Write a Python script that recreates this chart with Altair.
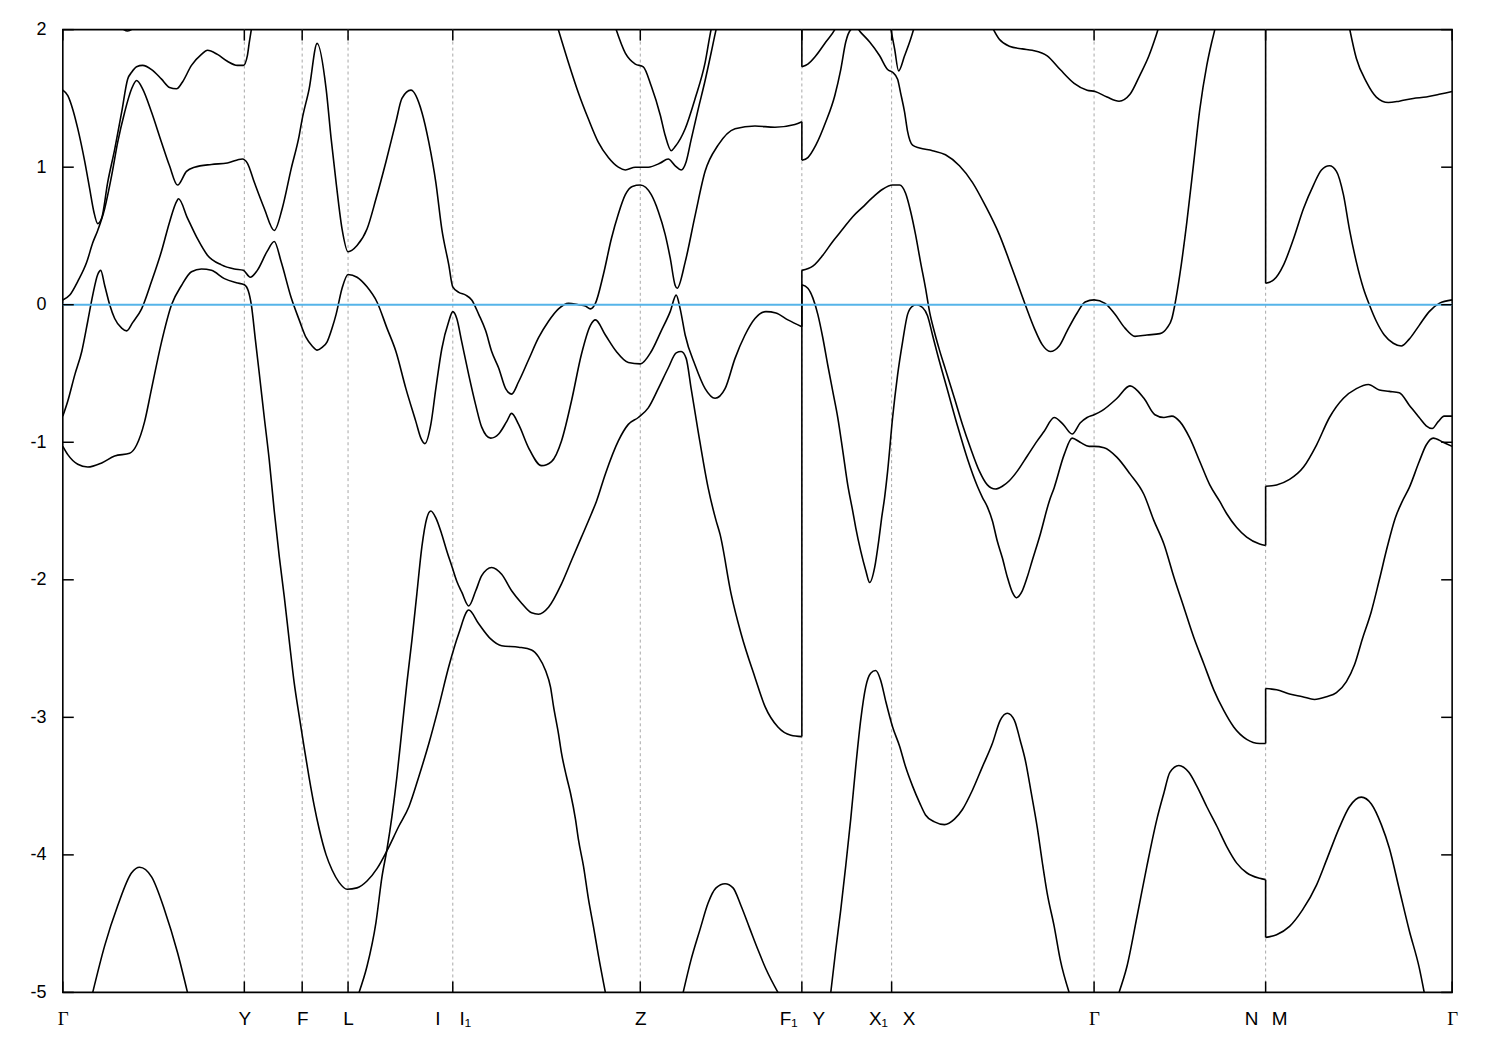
import altair as alt
import pandas as pd

# ---------------- axis data ----------------
K_TICKS = [0.0, 1.82, 2.40, 2.86, 3.91, 5.79, 7.41, 8.31, 10.34, 12.06, 13.93]
K_LABELS = ["Γ", "Y", "F", "L", "I\u2002\u2002I₁", "Z", "F₁\u2002\u00a0Y",
            "X₁\u2002\u00a0X", "Γ", "N\u2002\u2009M", "Γ"]
K_GRID = [1.82, 2.40, 2.86, 3.91, 5.79, 7.41, 8.31, 10.34, 12.06]
E_TICKS = [-5, -4, -3, -2, -1, 0, 1, 2]

# ---------------- band pieces (k, E in eV) ----------------
B1_GY = [(0.30, -5.0), (0.42, -4.66), (0.55, -4.37), (0.69, -4.13), (0.77, -4.09),
         (0.89, -4.16), (1.02, -4.40), (1.15, -4.71), (1.25, -5.0)]

B2_LOW = [(0.00, -1.03), (0.05, -1.09), (0.15, -1.16), (0.25, -1.18), (0.39, -1.15),
          (0.52, -1.10), (0.67, -1.08), (0.74, -1.02), (0.82, -0.85), (0.89, -0.61),
          (0.99, -0.27), (1.09, 0.0), (1.19, 0.14), (1.29, 0.24), (1.39, 0.26),
          (1.49, 0.25), (1.62, 0.19), (1.74, 0.16), (1.82, 0.145), (1.86, 0.10),
          (1.89, 0.0), (1.93, -0.25), (1.97, -0.50), (2.02, -0.82), (2.07, -1.13),
          (2.12, -1.50), (2.17, -1.83), (2.22, -2.12), (2.27, -2.44), (2.32, -2.75),
          (2.37, -2.99), (2.42, -3.22), (2.47, -3.44), (2.52, -3.64), (2.57, -3.81),
          (2.64, -4.0), (2.70, -4.11), (2.77, -4.20), (2.85, -4.25), (2.95, -4.24),
          (3.05, -4.19), (3.15, -4.10), (3.25, -3.97), (3.37, -3.79), (3.47, -3.65),
          (3.57, -3.43), (3.67, -3.19), (3.77, -2.92), (3.87, -2.63), (3.97, -2.39),
          (4.07, -2.22), (4.17, -2.32), (4.29, -2.43), (4.40, -2.48), (4.57, -2.49),
          (4.70, -2.51), (4.77, -2.56), (4.84, -2.66), (4.89, -2.78), (4.92, -2.92),
          (4.97, -3.12), (5.00, -3.26), (5.05, -3.43), (5.09, -3.55), (5.14, -3.74),
          (5.17, -3.89), (5.22, -4.08), (5.27, -4.32), (5.32, -4.52), (5.37, -4.73),
          (5.44, -5.0)]

B2_STEEP = [(2.97, -5.0), (3.05, -4.81), (3.14, -4.49), (3.20, -4.16), (3.25, -3.96),
            (3.30, -3.72), (3.35, -3.43), (3.40, -3.09), (3.45, -2.75), (3.50, -2.44),
            (3.55, -2.10), (3.60, -1.76), (3.65, -1.55), (3.69, -1.50), (3.74, -1.55),
            (3.80, -1.67), (3.85, -1.79), (3.90, -1.90), (3.95, -2.01), (4.00, -2.09),
            (4.07, -2.19), (4.14, -2.08), (4.20, -1.97), (4.30, -1.91), (4.40, -1.96),
            (4.50, -2.08), (4.60, -2.17), (4.70, -2.24), (4.77, -2.25), (4.87, -2.20),
            (5.00, -2.03), (5.10, -1.86), (5.20, -1.69), (5.30, -1.52), (5.35, -1.43),
            (5.44, -1.23), (5.57, -0.99), (5.67, -0.87), (5.77, -0.82), (5.87, -0.75),
            (5.97, -0.61), (6.07, -0.46), (6.15, -0.35), (6.20, -0.34), (6.25, -0.39),
            (6.30, -0.61), (6.37, -0.92), (6.47, -1.33), (6.55, -1.57), (6.59, -1.67),
            (6.70, -2.10), (6.80, -2.39), (6.94, -2.71), (7.04, -2.92), (7.17, -3.07),
            (7.30, -3.13), (7.41, -3.14)]

B2_YN = [(7.41, 0.145), (7.47, 0.12), (7.52, 0.05), (7.57, -0.07), (7.62, -0.24),
         (7.67, -0.44), (7.72, -0.63), (7.77, -0.82), (7.82, -1.06), (7.87, -1.31),
         (7.92, -1.50), (7.95, -1.62), (8.00, -1.79), (8.05, -1.93), (8.09, -2.02),
         (8.14, -1.91), (8.18, -1.72), (8.21, -1.55), (8.24, -1.40), (8.27, -1.21),
         (8.32, -0.82), (8.37, -0.51), (8.42, -0.27), (8.47, -0.07), (8.52, -0.01),
         (8.56, 0.0), (8.62, -0.02), (8.67, -0.08), (8.72, -0.22), (8.77, -0.36),
         (8.87, -0.62), (8.97, -0.88), (9.07, -1.12), (9.17, -1.32), (9.22, -1.40),
         (9.27, -1.47), (9.32, -1.57), (9.37, -1.72), (9.42, -1.84), (9.47, -1.98),
         (9.52, -2.09), (9.56, -2.13), (9.62, -2.08), (9.67, -1.98), (9.72, -1.86),
         (9.80, -1.67), (9.89, -1.43), (9.94, -1.33), (10.04, -1.09), (10.12, -0.97),
         (10.20, -1.00), (10.29, -1.03), (10.34, -1.03), (10.44, -1.04), (10.57, -1.11),
         (10.70, -1.23), (10.84, -1.38), (10.94, -1.57), (11.04, -1.74), (11.14, -1.98),
         (11.24, -2.20), (11.34, -2.42), (11.44, -2.61), (11.54, -2.80), (11.64, -2.95),
         (11.74, -3.07), (11.87, -3.16), (12.00, -3.19), (12.06, -3.19)]

B2_MG = [(12.06, -2.79), (12.17, -2.80), (12.30, -2.83), (12.43, -2.85), (12.55, -2.87),
         (12.67, -2.85), (12.77, -2.82), (12.87, -2.74), (12.95, -2.62), (13.03, -2.43),
         (13.12, -2.23), (13.20, -2.0), (13.28, -1.76), (13.36, -1.55), (13.43, -1.43),
         (13.50, -1.33), (13.60, -1.14), (13.67, -1.02), (13.74, -0.97), (13.84, -1.00),
         (13.93, -1.03)]

B3_GF = [(0.00, -0.81), (0.05, -0.70), (0.12, -0.51), (0.19, -0.34), (0.25, -0.12),
         (0.30, 0.07), (0.35, 0.22), (0.38, 0.25), (0.42, 0.14), (0.47, 0.0),
         (0.52, -0.10), (0.59, -0.17), (0.64, -0.19), (0.70, -0.13), (0.79, -0.03),
         (0.89, 0.17), (0.99, 0.39), (1.07, 0.60), (1.14, 0.75), (1.16, 0.77),
         (1.25, 0.63), (1.35, 0.48), (1.45, 0.36), (1.59, 0.29), (1.72, 0.26),
         (1.81, 0.25), (1.88, 0.20), (1.95, 0.25), (2.05, 0.39), (2.12, 0.46),
         (2.19, 0.31), (2.29, 0.05), (2.37, -0.11), (2.44, -0.24), (2.50, -0.30),
         (2.55, -0.33), (2.60, -0.31), (2.65, -0.27), (2.70, -0.17), (2.74, -0.07),
         (2.80, 0.12), (2.86, 0.22), (2.95, 0.20), (3.05, 0.13), (3.15, 0.02),
         (3.25, -0.17), (3.34, -0.34), (3.44, -0.61), (3.54, -0.85), (3.59, -0.97),
         (3.63, -1.01), (3.69, -0.87), (3.74, -0.61), (3.80, -0.32), (3.87, -0.12),
         (3.91, -0.05), (3.95, -0.10), (4.00, -0.27), (4.07, -0.51), (4.14, -0.73),
         (4.20, -0.89), (4.29, -0.97), (4.37, -0.94), (4.45, -0.85), (4.50, -0.79),
         (4.57, -0.87), (4.67, -1.04), (4.80, -1.17), (4.90, -1.14), (5.00, -0.99),
         (5.10, -0.70), (5.20, -0.36), (5.29, -0.15), (5.34, -0.11), (5.44, -0.22),
         (5.55, -0.34), (5.67, -0.42), (5.79, -0.43), (5.90, -0.34), (6.00, -0.19),
         (6.09, -0.05), (6.15, 0.07), (6.19, -0.03), (6.24, -0.22), (6.34, -0.44),
         (6.44, -0.61), (6.54, -0.68), (6.64, -0.61), (6.74, -0.39), (6.84, -0.22),
         (6.94, -0.10), (7.05, -0.05), (7.15, -0.06), (7.27, -0.11), (7.41, -0.16)]

B3_YN = [(7.41, 0.25), (7.52, 0.28), (7.62, 0.36), (7.72, 0.46), (7.82, 0.55),
         (7.92, 0.64), (8.02, 0.71), (8.12, 0.78), (8.22, 0.84), (8.32, 0.87),
         (8.39, 0.87), (8.45, 0.81), (8.50, 0.68), (8.55, 0.51), (8.60, 0.31),
         (8.65, 0.12), (8.69, -0.05), (8.74, -0.20), (8.79, -0.33), (8.85, -0.47),
         (8.94, -0.68), (9.02, -0.87), (9.10, -1.04), (9.19, -1.21), (9.27, -1.31),
         (9.35, -1.34), (9.42, -1.32), (9.49, -1.28), (9.57, -1.21), (9.67, -1.10),
         (9.77, -0.99), (9.84, -0.92), (9.94, -0.82), (10.03, -0.87), (10.12, -0.94),
         (10.20, -0.86), (10.27, -0.82), (10.34, -0.80), (10.42, -0.77), (10.57, -0.68),
         (10.70, -0.59), (10.84, -0.68), (10.95, -0.80), (11.04, -0.82), (11.12, -0.81),
         (11.20, -0.85), (11.30, -0.97), (11.40, -1.14), (11.50, -1.31), (11.60, -1.43),
         (11.67, -1.52), (11.77, -1.62), (11.87, -1.69), (12.00, -1.74), (12.06, -1.75)]

B3_MG = [(12.06, -1.32), (12.17, -1.31), (12.30, -1.27), (12.44, -1.18), (12.57, -1.02),
         (12.70, -0.82), (12.84, -0.68), (12.97, -0.61), (13.09, -0.58), (13.20, -0.62),
         (13.30, -0.63), (13.40, -0.64), (13.50, -0.73), (13.60, -0.82), (13.67, -0.88),
         (13.73, -0.90), (13.79, -0.85), (13.85, -0.81), (13.93, -0.81)]

B4_GF = [(0.00, 0.035), (0.07, 0.07), (0.15, 0.17), (0.24, 0.31), (0.30, 0.45),
         (0.35, 0.54), (0.42, 0.70), (0.49, 0.94), (0.55, 1.18), (0.62, 1.40),
         (0.69, 1.57), (0.74, 1.63), (0.80, 1.57), (0.89, 1.40), (0.99, 1.18),
         (1.07, 1.01), (1.15, 0.87), (1.24, 0.97), (1.32, 1.00), (1.49, 1.02),
         (1.65, 1.03), (1.80, 1.06), (1.85, 1.03), (1.92, 0.89), (2.02, 0.70),
         (2.12, 0.54), (2.20, 0.70), (2.29, 0.99), (2.37, 1.23), (2.40, 1.35),
         (2.47, 1.57), (2.55, 1.90), (2.64, 1.57), (2.69, 1.21), (2.74, 0.89),
         (2.80, 0.55), (2.86, 0.385), (2.95, 0.43), (3.05, 0.55), (3.14, 0.77),
         (3.24, 1.04), (3.34, 1.33), (3.40, 1.50), (3.49, 1.56), (3.60, 1.40),
         (3.67, 1.18), (3.74, 0.89), (3.80, 0.55), (3.87, 0.29), (3.91, 0.13),
         (3.97, 0.09), (4.04, 0.07), (4.10, 0.035), (4.17, -0.07), (4.24, -0.19),
         (4.30, -0.34), (4.37, -0.46), (4.44, -0.61), (4.50, -0.65), (4.57, -0.56),
         (4.67, -0.40), (4.77, -0.24), (4.87, -0.12), (4.97, -0.03), (5.07, 0.01),
         (5.17, 0.0), (5.24, -0.01), (5.29, -0.03), (5.34, 0.01), (5.42, 0.22),
         (5.50, 0.48), (5.57, 0.66), (5.64, 0.80), (5.71, 0.86), (5.79, 0.87),
         (5.90, 0.80), (5.97, 0.68), (6.04, 0.51), (6.09, 0.34), (6.14, 0.14),
         (6.16, 0.12), (6.24, 0.31), (6.34, 0.65), (6.44, 0.97), (6.57, 1.16),
         (6.74, 1.28), (6.94, 1.30), (7.14, 1.29), (7.34, 1.31), (7.41, 1.33)]

B4_YN = [(7.41, 1.05), (7.47, 1.07), (7.55, 1.16), (7.65, 1.33), (7.74, 1.52),
         (7.80, 1.71), (7.85, 1.91), (7.90, 2.0), (7.95, 2.02), (8.00, 1.98),
         (8.09, 1.91), (8.19, 1.81), (8.27, 1.71), (8.32, 1.69), (8.37, 1.64),
         (8.40, 1.54), (8.44, 1.40), (8.47, 1.26), (8.52, 1.16), (8.59, 1.14),
         (8.72, 1.12), (8.85, 1.09), (8.99, 1.01), (9.12, 0.89), (9.25, 0.72),
         (9.39, 0.51), (9.52, 0.26), (9.65, 0.0), (9.74, -0.17), (9.82, -0.29),
         (9.90, -0.34), (9.99, -0.30), (10.07, -0.19), (10.17, -0.06), (10.25, 0.02),
         (10.34, 0.035), (10.45, 0.01), (10.55, -0.07), (10.65, -0.17), (10.75, -0.23),
         (10.87, -0.22), (11.00, -0.21), (11.07, -0.17), (11.12, -0.10), (11.15, 0.0),
         (11.20, 0.22), (11.27, 0.60), (11.34, 1.04), (11.40, 1.42), (11.47, 1.74),
         (11.52, 1.91), (11.55, 2.0), (11.58, 2.12)]

B4_MG = [(12.06, 0.156), (12.14, 0.18), (12.24, 0.29), (12.34, 0.48), (12.44, 0.70),
         (12.54, 0.87), (12.62, 0.98), (12.70, 1.01), (12.77, 0.97), (12.84, 0.80),
         (12.90, 0.55), (12.97, 0.31), (13.04, 0.12), (13.10, 0.0), (13.17, -0.12),
         (13.25, -0.22), (13.34, -0.28), (13.42, -0.30), (13.50, -0.25), (13.60, -0.15),
         (13.70, -0.05), (13.80, 0.01), (13.93, 0.035)]

B5_GY = [(0.00, 1.56), (0.05, 1.52), (0.10, 1.42), (0.15, 1.28), (0.22, 1.04),
         (0.27, 0.84), (0.31, 0.68), (0.35, 0.59), (0.39, 0.63), (0.45, 0.89),
         (0.52, 1.13), (0.59, 1.40), (0.65, 1.64), (0.69, 1.69), (0.74, 1.73),
         (0.80, 1.74), (0.89, 1.71), (0.99, 1.64), (1.07, 1.58), (1.14, 1.57),
         (1.20, 1.62), (1.29, 1.74), (1.39, 1.82), (1.45, 1.85), (1.55, 1.82),
         (1.65, 1.77), (1.75, 1.74), (1.81, 1.74), (1.85, 1.81), (1.87, 1.91),
         (1.89, 2.0), (1.91, 2.1)]

B5_IZ = [(4.96, 2.02), (5.07, 1.76), (5.17, 1.54), (5.27, 1.35), (5.37, 1.18),
         (5.47, 1.07), (5.57, 1.00), (5.64, 0.98), (5.74, 1.00), (5.87, 1.00),
         (5.99, 1.03), (6.07, 1.06), (6.14, 1.01), (6.20, 0.98), (6.25, 1.04),
         (6.30, 1.20), (6.37, 1.42), (6.44, 1.63), (6.50, 1.83), (6.55, 2.0),
         (6.57, 2.06)]

B5_Y = [(7.41, 1.73), (7.47, 1.75), (7.55, 1.81), (7.65, 1.91), (7.74, 2.0), (7.78, 2.06)]

B5_X1 = [(8.29, 2.05), (8.34, 1.86), (8.38, 1.70), (8.44, 1.81), (8.50, 1.93), (8.55, 2.05)]

B5_XG = [(9.31, 2.03), (9.39, 1.93), (9.49, 1.88), (9.62, 1.86), (9.72, 1.85),
         (9.87, 1.81), (10.00, 1.71), (10.14, 1.61), (10.27, 1.56), (10.35, 1.55),
         (10.47, 1.51), (10.59, 1.48), (10.70, 1.53), (10.80, 1.67), (10.89, 1.81),
         (10.94, 1.91), (10.98, 2.0), (11.00, 2.05)]

B5_MG = [(12.89, 2.05), (12.97, 1.79), (13.07, 1.62), (13.17, 1.51), (13.29, 1.47),
         (13.40, 1.48), (13.54, 1.50), (13.67, 1.51), (13.80, 1.53), (13.93, 1.55)]

B6_GY = [(0.52, 2.04), (0.59, 2.01), (0.65, 1.99), (0.71, 2.01), (0.77, 2.04)]

B6_Z = [(5.53, 2.04), (5.64, 1.83), (5.74, 1.75), (5.82, 1.73), (5.90, 1.59),
        (5.99, 1.38), (6.04, 1.23), (6.10, 1.12), (6.14, 1.15), (6.24, 1.28),
        (6.34, 1.50), (6.44, 1.76), (6.50, 2.0), (6.52, 2.06)]

B1_ZF = [(6.22, -5.0), (6.30, -4.76), (6.39, -4.54), (6.47, -4.35), (6.55, -4.24),
         (6.64, -4.21), (6.72, -4.24), (6.80, -4.37), (6.89, -4.54), (6.97, -4.69),
         (7.05, -4.83), (7.17, -5.0)]

B1_YG = [(7.70, -5.0), (7.75, -4.69), (7.80, -4.40), (7.85, -4.08), (7.90, -3.74),
         (7.95, -3.36), (8.00, -3.02), (8.05, -2.78), (8.10, -2.68), (8.15, -2.66),
         (8.20, -2.73), (8.25, -2.88), (8.32, -3.07), (8.39, -3.21), (8.45, -3.36),
         (8.52, -3.50), (8.59, -3.62), (8.65, -3.71), (8.74, -3.76), (8.84, -3.78),
         (8.94, -3.74), (9.02, -3.67), (9.12, -3.53), (9.22, -3.36), (9.32, -3.19),
         (9.40, -3.02), (9.47, -2.97), (9.54, -3.02), (9.60, -3.17), (9.65, -3.31),
         (9.71, -3.55), (9.77, -3.80), (9.82, -4.05), (9.87, -4.28), (9.94, -4.52),
         (10.00, -4.76), (10.09, -5.0)]

B1_GN = [(10.59, -5.0), (10.67, -4.81), (10.77, -4.45), (10.87, -4.08), (10.97, -3.74),
         (11.04, -3.55), (11.10, -3.40), (11.19, -3.35), (11.29, -3.40), (11.37, -3.50),
         (11.47, -3.65), (11.57, -3.79), (11.67, -3.94), (11.77, -4.06), (11.87, -4.13),
         (12.00, -4.17), (12.06, -4.18)]

B1_MG = [(12.06, -4.60), (12.17, -4.58), (12.30, -4.52), (12.43, -4.40), (12.57, -4.22),
         (12.68, -4.02), (12.80, -3.80), (12.90, -3.65), (13.02, -3.58), (13.12, -3.63),
         (13.22, -3.78), (13.30, -3.95), (13.40, -4.25), (13.50, -4.55), (13.60, -4.82),
         (13.65, -5.0)]

# discontinuities of the path (F1|Y and N|M): band value before / after
JUMP_K = [7.41, 7.41, 7.41, 7.41, 12.06, 12.06, 12.06, 12.06]
JUMP_FROM = [-3.14, -0.16, 1.33, 2.05, -4.18, -3.19, -1.75, 2.05]
JUMP_TO = [0.145, 0.25, 1.05, 1.73, -4.60, -2.79, -1.32, 0.156]

PIECES = {
    "B1_GY": B1_GY, "B2_LOW": B2_LOW, "B2_STEEP": B2_STEEP, "B2_YN": B2_YN,
    "B2_MG": B2_MG, "B3_GF": B3_GF, "B3_YN": B3_YN, "B3_MG": B3_MG,
    "B4_GF": B4_GF, "B4_YN": B4_YN, "B4_MG": B4_MG, "B5_GY": B5_GY,
    "B5_IZ": B5_IZ, "B5_Y": B5_Y, "B5_X1": B5_X1, "B5_XG": B5_XG,
    "B5_MG": B5_MG, "B6_GY": B6_GY, "B6_Z": B6_Z, "B1_ZF": B1_ZF,
    "B1_YG": B1_YG, "B1_GN": B1_GN, "B1_MG": B1_MG,
}

rows = []
for name, pts in PIECES.items():
    for i, (k, e) in enumerate(pts):
        rows.append({"piece": name, "i": i, "k": k, "E": e})
bands_df = pd.DataFrame(rows)
jumps_df = pd.DataFrame({"k": JUMP_K, "e1": JUMP_FROM, "e2": JUMP_TO})
grid_df = pd.DataFrame({"k": K_GRID})
kt_df = pd.DataFrame({"k": K_TICKS})
et_df = pd.DataFrame({"E": E_TICKS})
zero_df = pd.DataFrame({"E": [0.0]})

W, H = 1394, 966
TICK = 11

xs = alt.Scale(domain=[0, 13.93], nice=False, zero=False)
ys = alt.Scale(domain=[-5, 2], nice=False, zero=False)

label_expr = ("[" + ",".join("'" + l + "'" for l in K_LABELS) + "][indexof(["
              + ",".join(str(k) for k in K_TICKS) + "], datum.value)]")
gamma_test = "indexof([0, 10.34, 13.93], datum.value) >= 0"

X_AX = alt.Axis(values=K_TICKS, labelExpr=label_expr, ticks=False, domain=False,
                grid=False, title=None, labelFontSize=19, labelColor="black",
                labelFont={"condition": {"test": gamma_test, "value": "Liberation Serif"},
                           "value": "Liberation Sans"},
                labelPadding=17, labelBaseline="top", labelOverlap=False,
                labelFlush=False, labelBound=False)
Y_AX = alt.Axis(values=E_TICKS, labelExpr="toString(datum.value)", ticks=False,
                domain=False, grid=False, title=None, labelFontSize=18,
                labelColor="black", labelFont="Liberation Sans", labelPadding=17)

X = alt.X("k:Q", scale=xs, axis=X_AX)
Y = alt.Y("E:Q", scale=ys, axis=Y_AX)

grid = alt.Chart(grid_df).mark_rule(color="#a8a8a8", strokeWidth=1,
                                    strokeDash=[3, 3]).encode(x=X)

bands = alt.Chart(bands_df).mark_line(color="black", strokeWidth=1.6,
                                      interpolate="monotone", clip=True).encode(
    x=X, y=Y, detail="piece:N", order="i:Q")

jumps = alt.Chart(jumps_df).mark_rule(color="black", strokeWidth=1.6, clip=True).encode(
    x=X, y=alt.Y("e1:Q", scale=ys, axis=Y_AX), y2="e2:Q")

zero = alt.Chart(zero_df).mark_rule(color="#56b4e9", strokeWidth=2).encode(y=Y)

yt_left = alt.Chart(et_df).mark_rule(color="black", strokeWidth=1.5).encode(
    y=Y, x=alt.value(0), x2=alt.value(TICK))
yt_right = alt.Chart(et_df).mark_rule(color="black", strokeWidth=1.5).encode(
    y=Y, x=alt.value(W - TICK), x2=alt.value(W))
xt_bottom = alt.Chart(kt_df).mark_rule(color="black", strokeWidth=1.5).encode(
    x=X, y=alt.value(H - TICK), y2=alt.value(H))
xt_top = alt.Chart(kt_df).mark_rule(color="black", strokeWidth=1.5).encode(
    x=X, y=alt.value(0), y2=alt.value(TICK))

chart = alt.layer(grid, bands, jumps, zero, yt_left, yt_right, xt_bottom, xt_top).properties(
    width=W, height=H,
    autosize=alt.AutoSizeParams(type="none"),
    padding={"left": 55, "top": 20, "right": 40, "bottom": 40},
    background="white",
).configure_view(stroke="black", strokeWidth=1.6)

chart.save("out.html", embed_options={"renderer": "svg", "actions": False})
